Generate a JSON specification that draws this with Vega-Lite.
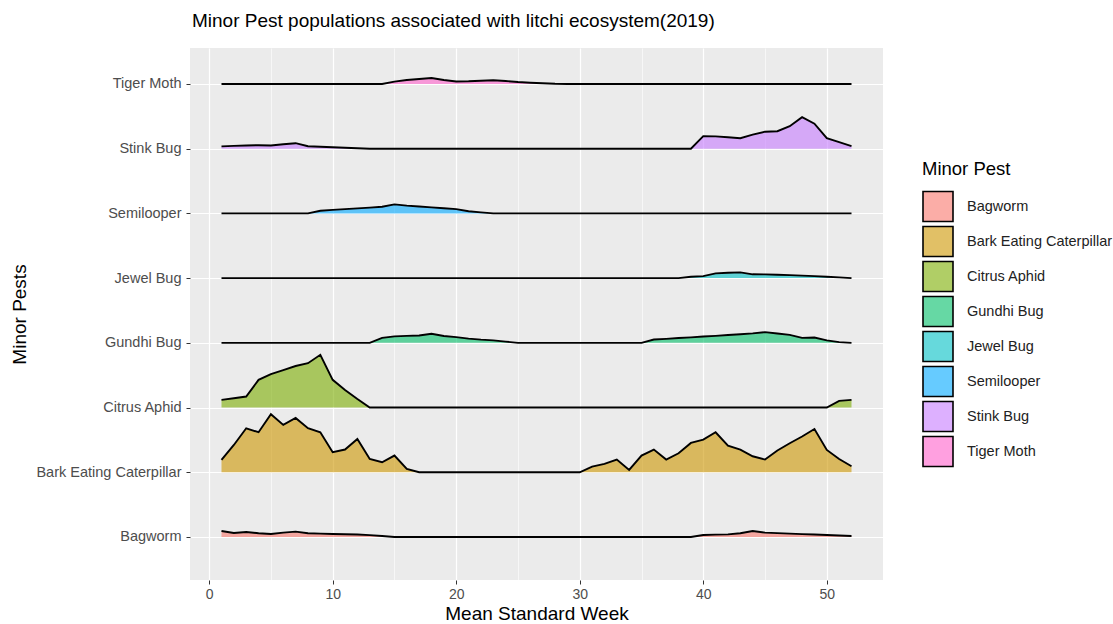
{
  "$schema": "https://vega.github.io/schema/vega-lite/v6.json",
  "width": 693,
  "height": 532,
  "autosize": {"type": "none"},
  "padding": {"left": 190, "top": 48, "right": 230, "bottom": 44},
  "background": "white",
  "title": {"text": "Minor Pest populations associated with litchi ecosystem(2019)", "anchor": "start", "frame": "group", "fontSize": 19, "fontWeight": "normal", "color": "black", "offset": 17, "dx": 2},
  "config": {
    "font": "Liberation Sans",
    "view": {"fill": "#EBEBEB", "stroke": null}
  },
  "data": {"values": [
    {"pest":"Bagworm","week":1,"value":6},{"pest":"Bagworm","week":2,"value":4},{"pest":"Bagworm","week":3,"value":5},{"pest":"Bagworm","week":4,"value":3.7},{"pest":"Bagworm","week":5,"value":3},{"pest":"Bagworm","week":6,"value":4.3},{"pest":"Bagworm","week":7,"value":5.3},{"pest":"Bagworm","week":8,"value":3.7},{"pest":"Bagworm","week":9,"value":3.3},{"pest":"Bagworm","week":10,"value":3},{"pest":"Bagworm","week":11,"value":2.7},{"pest":"Bagworm","week":12,"value":2.4},{"pest":"Bagworm","week":13,"value":1.8},{"pest":"Bagworm","week":14,"value":1},{"pest":"Bagworm","week":15,"value":0},{"pest":"Bagworm","week":16,"value":0},{"pest":"Bagworm","week":17,"value":0},{"pest":"Bagworm","week":18,"value":0},{"pest":"Bagworm","week":19,"value":0},{"pest":"Bagworm","week":20,"value":0},{"pest":"Bagworm","week":21,"value":0},{"pest":"Bagworm","week":22,"value":0},{"pest":"Bagworm","week":23,"value":0},{"pest":"Bagworm","week":24,"value":0},{"pest":"Bagworm","week":25,"value":0},{"pest":"Bagworm","week":26,"value":0},{"pest":"Bagworm","week":27,"value":0},{"pest":"Bagworm","week":28,"value":0},{"pest":"Bagworm","week":29,"value":0},{"pest":"Bagworm","week":30,"value":0},{"pest":"Bagworm","week":31,"value":0},{"pest":"Bagworm","week":32,"value":0},{"pest":"Bagworm","week":33,"value":0},{"pest":"Bagworm","week":34,"value":0},{"pest":"Bagworm","week":35,"value":0},{"pest":"Bagworm","week":36,"value":0},{"pest":"Bagworm","week":37,"value":0},{"pest":"Bagworm","week":38,"value":0},{"pest":"Bagworm","week":39,"value":0},{"pest":"Bagworm","week":40,"value":2},{"pest":"Bagworm","week":41,"value":2.3},{"pest":"Bagworm","week":42,"value":2.6},{"pest":"Bagworm","week":43,"value":3.7},{"pest":"Bagworm","week":44,"value":6},{"pest":"Bagworm","week":45,"value":4.3},{"pest":"Bagworm","week":46,"value":3.8},{"pest":"Bagworm","week":47,"value":3.3},{"pest":"Bagworm","week":48,"value":2.8},{"pest":"Bagworm","week":49,"value":2.4},{"pest":"Bagworm","week":50,"value":2},{"pest":"Bagworm","week":51,"value":1.5},{"pest":"Bagworm","week":52,"value":1},
    {"pest":"Bark Eating Caterpillar","week":1,"value":12.3},{"pest":"Bark Eating Caterpillar","week":2,"value":27.3},{"pest":"Bark Eating Caterpillar","week":3,"value":44},{"pest":"Bark Eating Caterpillar","week":4,"value":40},{"pest":"Bark Eating Caterpillar","week":5,"value":58},{"pest":"Bark Eating Caterpillar","week":6,"value":47.3},{"pest":"Bark Eating Caterpillar","week":7,"value":54.3},{"pest":"Bark Eating Caterpillar","week":8,"value":44},{"pest":"Bark Eating Caterpillar","week":9,"value":40},{"pest":"Bark Eating Caterpillar","week":10,"value":20},{"pest":"Bark Eating Caterpillar","week":11,"value":22.7},{"pest":"Bark Eating Caterpillar","week":12,"value":33.3},{"pest":"Bark Eating Caterpillar","week":13,"value":13.3},{"pest":"Bark Eating Caterpillar","week":14,"value":10},{"pest":"Bark Eating Caterpillar","week":15,"value":16.7},{"pest":"Bark Eating Caterpillar","week":16,"value":3.3},{"pest":"Bark Eating Caterpillar","week":17,"value":0},{"pest":"Bark Eating Caterpillar","week":18,"value":0},{"pest":"Bark Eating Caterpillar","week":19,"value":0},{"pest":"Bark Eating Caterpillar","week":20,"value":0},{"pest":"Bark Eating Caterpillar","week":21,"value":0},{"pest":"Bark Eating Caterpillar","week":22,"value":0},{"pest":"Bark Eating Caterpillar","week":23,"value":0},{"pest":"Bark Eating Caterpillar","week":24,"value":0},{"pest":"Bark Eating Caterpillar","week":25,"value":0},{"pest":"Bark Eating Caterpillar","week":26,"value":0},{"pest":"Bark Eating Caterpillar","week":27,"value":0},{"pest":"Bark Eating Caterpillar","week":28,"value":0},{"pest":"Bark Eating Caterpillar","week":29,"value":0},{"pest":"Bark Eating Caterpillar","week":30,"value":0},{"pest":"Bark Eating Caterpillar","week":31,"value":5.7},{"pest":"Bark Eating Caterpillar","week":32,"value":8.3},{"pest":"Bark Eating Caterpillar","week":33,"value":12.7},{"pest":"Bark Eating Caterpillar","week":34,"value":2.3},{"pest":"Bark Eating Caterpillar","week":35,"value":16.7},{"pest":"Bark Eating Caterpillar","week":36,"value":22.7},{"pest":"Bark Eating Caterpillar","week":37,"value":12.7},{"pest":"Bark Eating Caterpillar","week":38,"value":19},{"pest":"Bark Eating Caterpillar","week":39,"value":29.3},{"pest":"Bark Eating Caterpillar","week":40,"value":32.7},{"pest":"Bark Eating Caterpillar","week":41,"value":40},{"pest":"Bark Eating Caterpillar","week":42,"value":26.7},{"pest":"Bark Eating Caterpillar","week":43,"value":22.7},{"pest":"Bark Eating Caterpillar","week":44,"value":16},{"pest":"Bark Eating Caterpillar","week":45,"value":12.7},{"pest":"Bark Eating Caterpillar","week":46,"value":21.7},{"pest":"Bark Eating Caterpillar","week":47,"value":29},{"pest":"Bark Eating Caterpillar","week":48,"value":35.7},{"pest":"Bark Eating Caterpillar","week":49,"value":43.3},{"pest":"Bark Eating Caterpillar","week":50,"value":22.3},{"pest":"Bark Eating Caterpillar","week":51,"value":13.3},{"pest":"Bark Eating Caterpillar","week":52,"value":6},
    {"pest":"Citrus Aphid","week":1,"value":7.7},{"pest":"Citrus Aphid","week":2,"value":9.3},{"pest":"Citrus Aphid","week":3,"value":11},{"pest":"Citrus Aphid","week":4,"value":27.7},{"pest":"Citrus Aphid","week":5,"value":33.5},{"pest":"Citrus Aphid","week":6,"value":37.5},{"pest":"Citrus Aphid","week":7,"value":41.5},{"pest":"Citrus Aphid","week":8,"value":44.3},{"pest":"Citrus Aphid","week":9,"value":52.7},{"pest":"Citrus Aphid","week":10,"value":27.7},{"pest":"Citrus Aphid","week":11,"value":17.5},{"pest":"Citrus Aphid","week":12,"value":8.5},{"pest":"Citrus Aphid","week":13,"value":0},{"pest":"Citrus Aphid","week":14,"value":0},{"pest":"Citrus Aphid","week":15,"value":0},{"pest":"Citrus Aphid","week":16,"value":0},{"pest":"Citrus Aphid","week":17,"value":0},{"pest":"Citrus Aphid","week":18,"value":0},{"pest":"Citrus Aphid","week":19,"value":0},{"pest":"Citrus Aphid","week":20,"value":0},{"pest":"Citrus Aphid","week":21,"value":0},{"pest":"Citrus Aphid","week":22,"value":0},{"pest":"Citrus Aphid","week":23,"value":0},{"pest":"Citrus Aphid","week":24,"value":0},{"pest":"Citrus Aphid","week":25,"value":0},{"pest":"Citrus Aphid","week":26,"value":0},{"pest":"Citrus Aphid","week":27,"value":0},{"pest":"Citrus Aphid","week":28,"value":0},{"pest":"Citrus Aphid","week":29,"value":0},{"pest":"Citrus Aphid","week":30,"value":0},{"pest":"Citrus Aphid","week":31,"value":0},{"pest":"Citrus Aphid","week":32,"value":0},{"pest":"Citrus Aphid","week":33,"value":0},{"pest":"Citrus Aphid","week":34,"value":0},{"pest":"Citrus Aphid","week":35,"value":0},{"pest":"Citrus Aphid","week":36,"value":0},{"pest":"Citrus Aphid","week":37,"value":0},{"pest":"Citrus Aphid","week":38,"value":0},{"pest":"Citrus Aphid","week":39,"value":0},{"pest":"Citrus Aphid","week":40,"value":0},{"pest":"Citrus Aphid","week":41,"value":0},{"pest":"Citrus Aphid","week":42,"value":0},{"pest":"Citrus Aphid","week":43,"value":0},{"pest":"Citrus Aphid","week":44,"value":0},{"pest":"Citrus Aphid","week":45,"value":0},{"pest":"Citrus Aphid","week":46,"value":0},{"pest":"Citrus Aphid","week":47,"value":0},{"pest":"Citrus Aphid","week":48,"value":0},{"pest":"Citrus Aphid","week":49,"value":0},{"pest":"Citrus Aphid","week":50,"value":0},{"pest":"Citrus Aphid","week":51,"value":6.7},{"pest":"Citrus Aphid","week":52,"value":7.7},
    {"pest":"Gundhi Bug","week":1,"value":0},{"pest":"Gundhi Bug","week":2,"value":0},{"pest":"Gundhi Bug","week":3,"value":0},{"pest":"Gundhi Bug","week":4,"value":0},{"pest":"Gundhi Bug","week":5,"value":0},{"pest":"Gundhi Bug","week":6,"value":0},{"pest":"Gundhi Bug","week":7,"value":0},{"pest":"Gundhi Bug","week":8,"value":0},{"pest":"Gundhi Bug","week":9,"value":0},{"pest":"Gundhi Bug","week":10,"value":0},{"pest":"Gundhi Bug","week":11,"value":0},{"pest":"Gundhi Bug","week":12,"value":0},{"pest":"Gundhi Bug","week":13,"value":0},{"pest":"Gundhi Bug","week":14,"value":5},{"pest":"Gundhi Bug","week":15,"value":6.5},{"pest":"Gundhi Bug","week":16,"value":7},{"pest":"Gundhi Bug","week":17,"value":7.3},{"pest":"Gundhi Bug","week":18,"value":9},{"pest":"Gundhi Bug","week":19,"value":6.8},{"pest":"Gundhi Bug","week":20,"value":5.7},{"pest":"Gundhi Bug","week":21,"value":4.2},{"pest":"Gundhi Bug","week":22,"value":3.2},{"pest":"Gundhi Bug","week":23,"value":2.5},{"pest":"Gundhi Bug","week":24,"value":1.2},{"pest":"Gundhi Bug","week":25,"value":0},{"pest":"Gundhi Bug","week":26,"value":0},{"pest":"Gundhi Bug","week":27,"value":0},{"pest":"Gundhi Bug","week":28,"value":0},{"pest":"Gundhi Bug","week":29,"value":0},{"pest":"Gundhi Bug","week":30,"value":0},{"pest":"Gundhi Bug","week":31,"value":0},{"pest":"Gundhi Bug","week":32,"value":0},{"pest":"Gundhi Bug","week":33,"value":0},{"pest":"Gundhi Bug","week":34,"value":0},{"pest":"Gundhi Bug","week":35,"value":0},{"pest":"Gundhi Bug","week":36,"value":3.3},{"pest":"Gundhi Bug","week":37,"value":4},{"pest":"Gundhi Bug","week":38,"value":4.8},{"pest":"Gundhi Bug","week":39,"value":5.5},{"pest":"Gundhi Bug","week":40,"value":6.3},{"pest":"Gundhi Bug","week":41,"value":7},{"pest":"Gundhi Bug","week":42,"value":7.8},{"pest":"Gundhi Bug","week":43,"value":8.6},{"pest":"Gundhi Bug","week":44,"value":9.5},{"pest":"Gundhi Bug","week":45,"value":10.7},{"pest":"Gundhi Bug","week":46,"value":9.3},{"pest":"Gundhi Bug","week":47,"value":8},{"pest":"Gundhi Bug","week":48,"value":5},{"pest":"Gundhi Bug","week":49,"value":5.3},{"pest":"Gundhi Bug","week":50,"value":2.5},{"pest":"Gundhi Bug","week":51,"value":0.7},{"pest":"Gundhi Bug","week":52,"value":0},
    {"pest":"Jewel Bug","week":1,"value":0},{"pest":"Jewel Bug","week":2,"value":0},{"pest":"Jewel Bug","week":3,"value":0},{"pest":"Jewel Bug","week":4,"value":0},{"pest":"Jewel Bug","week":5,"value":0},{"pest":"Jewel Bug","week":6,"value":0},{"pest":"Jewel Bug","week":7,"value":0},{"pest":"Jewel Bug","week":8,"value":0},{"pest":"Jewel Bug","week":9,"value":0},{"pest":"Jewel Bug","week":10,"value":0},{"pest":"Jewel Bug","week":11,"value":0},{"pest":"Jewel Bug","week":12,"value":0},{"pest":"Jewel Bug","week":13,"value":0},{"pest":"Jewel Bug","week":14,"value":0},{"pest":"Jewel Bug","week":15,"value":0},{"pest":"Jewel Bug","week":16,"value":0},{"pest":"Jewel Bug","week":17,"value":0},{"pest":"Jewel Bug","week":18,"value":0},{"pest":"Jewel Bug","week":19,"value":0},{"pest":"Jewel Bug","week":20,"value":0},{"pest":"Jewel Bug","week":21,"value":0},{"pest":"Jewel Bug","week":22,"value":0},{"pest":"Jewel Bug","week":23,"value":0},{"pest":"Jewel Bug","week":24,"value":0},{"pest":"Jewel Bug","week":25,"value":0},{"pest":"Jewel Bug","week":26,"value":0},{"pest":"Jewel Bug","week":27,"value":0},{"pest":"Jewel Bug","week":28,"value":0},{"pest":"Jewel Bug","week":29,"value":0},{"pest":"Jewel Bug","week":30,"value":0},{"pest":"Jewel Bug","week":31,"value":0},{"pest":"Jewel Bug","week":32,"value":0},{"pest":"Jewel Bug","week":33,"value":0},{"pest":"Jewel Bug","week":34,"value":0},{"pest":"Jewel Bug","week":35,"value":0},{"pest":"Jewel Bug","week":36,"value":0},{"pest":"Jewel Bug","week":37,"value":0},{"pest":"Jewel Bug","week":38,"value":0},{"pest":"Jewel Bug","week":39,"value":1.3},{"pest":"Jewel Bug","week":40,"value":2},{"pest":"Jewel Bug","week":41,"value":4.7},{"pest":"Jewel Bug","week":42,"value":5.3},{"pest":"Jewel Bug","week":43,"value":5.7},{"pest":"Jewel Bug","week":44,"value":3.8},{"pest":"Jewel Bug","week":45,"value":3.7},{"pest":"Jewel Bug","week":46,"value":3.3},{"pest":"Jewel Bug","week":47,"value":3},{"pest":"Jewel Bug","week":48,"value":2.5},{"pest":"Jewel Bug","week":49,"value":2},{"pest":"Jewel Bug","week":50,"value":1.3},{"pest":"Jewel Bug","week":51,"value":0.7},{"pest":"Jewel Bug","week":52,"value":0},
    {"pest":"Semilooper","week":1,"value":0},{"pest":"Semilooper","week":2,"value":0},{"pest":"Semilooper","week":3,"value":0},{"pest":"Semilooper","week":4,"value":0},{"pest":"Semilooper","week":5,"value":0},{"pest":"Semilooper","week":6,"value":0},{"pest":"Semilooper","week":7,"value":0},{"pest":"Semilooper","week":8,"value":0},{"pest":"Semilooper","week":9,"value":2.7},{"pest":"Semilooper","week":10,"value":3.5},{"pest":"Semilooper","week":11,"value":4.3},{"pest":"Semilooper","week":12,"value":5},{"pest":"Semilooper","week":13,"value":5.8},{"pest":"Semilooper","week":14,"value":6.7},{"pest":"Semilooper","week":15,"value":9},{"pest":"Semilooper","week":16,"value":7.8},{"pest":"Semilooper","week":17,"value":6.9},{"pest":"Semilooper","week":18,"value":6},{"pest":"Semilooper","week":19,"value":5.1},{"pest":"Semilooper","week":20,"value":4.3},{"pest":"Semilooper","week":21,"value":2.2},{"pest":"Semilooper","week":22,"value":1},{"pest":"Semilooper","week":23,"value":0},{"pest":"Semilooper","week":24,"value":0},{"pest":"Semilooper","week":25,"value":0},{"pest":"Semilooper","week":26,"value":0},{"pest":"Semilooper","week":27,"value":0},{"pest":"Semilooper","week":28,"value":0},{"pest":"Semilooper","week":29,"value":0},{"pest":"Semilooper","week":30,"value":0},{"pest":"Semilooper","week":31,"value":0},{"pest":"Semilooper","week":32,"value":0},{"pest":"Semilooper","week":33,"value":0},{"pest":"Semilooper","week":34,"value":0},{"pest":"Semilooper","week":35,"value":0},{"pest":"Semilooper","week":36,"value":0},{"pest":"Semilooper","week":37,"value":0},{"pest":"Semilooper","week":38,"value":0},{"pest":"Semilooper","week":39,"value":0},{"pest":"Semilooper","week":40,"value":0},{"pest":"Semilooper","week":41,"value":0},{"pest":"Semilooper","week":42,"value":0},{"pest":"Semilooper","week":43,"value":0},{"pest":"Semilooper","week":44,"value":0},{"pest":"Semilooper","week":45,"value":0},{"pest":"Semilooper","week":46,"value":0},{"pest":"Semilooper","week":47,"value":0},{"pest":"Semilooper","week":48,"value":0},{"pest":"Semilooper","week":49,"value":0},{"pest":"Semilooper","week":50,"value":0},{"pest":"Semilooper","week":51,"value":0},{"pest":"Semilooper","week":52,"value":0},
    {"pest":"Stink Bug","week":1,"value":2.3},{"pest":"Stink Bug","week":2,"value":2.8},{"pest":"Stink Bug","week":3,"value":3.2},{"pest":"Stink Bug","week":4,"value":3.5},{"pest":"Stink Bug","week":5,"value":3.2},{"pest":"Stink Bug","week":6,"value":4.5},{"pest":"Stink Bug","week":7,"value":5.5},{"pest":"Stink Bug","week":8,"value":2.5},{"pest":"Stink Bug","week":9,"value":2},{"pest":"Stink Bug","week":10,"value":1.5},{"pest":"Stink Bug","week":11,"value":1},{"pest":"Stink Bug","week":12,"value":0.5},{"pest":"Stink Bug","week":13,"value":0},{"pest":"Stink Bug","week":14,"value":0},{"pest":"Stink Bug","week":15,"value":0},{"pest":"Stink Bug","week":16,"value":0},{"pest":"Stink Bug","week":17,"value":0},{"pest":"Stink Bug","week":18,"value":0},{"pest":"Stink Bug","week":19,"value":0},{"pest":"Stink Bug","week":20,"value":0},{"pest":"Stink Bug","week":21,"value":0},{"pest":"Stink Bug","week":22,"value":0},{"pest":"Stink Bug","week":23,"value":0},{"pest":"Stink Bug","week":24,"value":0},{"pest":"Stink Bug","week":25,"value":0},{"pest":"Stink Bug","week":26,"value":0},{"pest":"Stink Bug","week":27,"value":0},{"pest":"Stink Bug","week":28,"value":0},{"pest":"Stink Bug","week":29,"value":0},{"pest":"Stink Bug","week":30,"value":0},{"pest":"Stink Bug","week":31,"value":0},{"pest":"Stink Bug","week":32,"value":0},{"pest":"Stink Bug","week":33,"value":0},{"pest":"Stink Bug","week":34,"value":0},{"pest":"Stink Bug","week":35,"value":0},{"pest":"Stink Bug","week":36,"value":0},{"pest":"Stink Bug","week":37,"value":0},{"pest":"Stink Bug","week":38,"value":0},{"pest":"Stink Bug","week":39,"value":0},{"pest":"Stink Bug","week":40,"value":12.5},{"pest":"Stink Bug","week":41,"value":12.3},{"pest":"Stink Bug","week":42,"value":11.5},{"pest":"Stink Bug","week":43,"value":10.5},{"pest":"Stink Bug","week":44,"value":14},{"pest":"Stink Bug","week":45,"value":17},{"pest":"Stink Bug","week":46,"value":17.5},{"pest":"Stink Bug","week":47,"value":22.5},{"pest":"Stink Bug","week":48,"value":31.5},{"pest":"Stink Bug","week":49,"value":25},{"pest":"Stink Bug","week":50,"value":10.5},{"pest":"Stink Bug","week":51,"value":6.5},{"pest":"Stink Bug","week":52,"value":2.5},
    {"pest":"Tiger Moth","week":1,"value":0},{"pest":"Tiger Moth","week":2,"value":0},{"pest":"Tiger Moth","week":3,"value":0},{"pest":"Tiger Moth","week":4,"value":0},{"pest":"Tiger Moth","week":5,"value":0},{"pest":"Tiger Moth","week":6,"value":0},{"pest":"Tiger Moth","week":7,"value":0},{"pest":"Tiger Moth","week":8,"value":0},{"pest":"Tiger Moth","week":9,"value":0},{"pest":"Tiger Moth","week":10,"value":0},{"pest":"Tiger Moth","week":11,"value":0},{"pest":"Tiger Moth","week":12,"value":0},{"pest":"Tiger Moth","week":13,"value":0},{"pest":"Tiger Moth","week":14,"value":0},{"pest":"Tiger Moth","week":15,"value":2.3},{"pest":"Tiger Moth","week":16,"value":4},{"pest":"Tiger Moth","week":17,"value":5},{"pest":"Tiger Moth","week":18,"value":6},{"pest":"Tiger Moth","week":19,"value":4},{"pest":"Tiger Moth","week":20,"value":2.5},{"pest":"Tiger Moth","week":21,"value":2.7},{"pest":"Tiger Moth","week":22,"value":3.2},{"pest":"Tiger Moth","week":23,"value":3.7},{"pest":"Tiger Moth","week":24,"value":3},{"pest":"Tiger Moth","week":25,"value":2},{"pest":"Tiger Moth","week":26,"value":1.3},{"pest":"Tiger Moth","week":27,"value":0.8},{"pest":"Tiger Moth","week":28,"value":0.2},{"pest":"Tiger Moth","week":29,"value":0},{"pest":"Tiger Moth","week":30,"value":0},{"pest":"Tiger Moth","week":31,"value":0},{"pest":"Tiger Moth","week":32,"value":0},{"pest":"Tiger Moth","week":33,"value":0},{"pest":"Tiger Moth","week":34,"value":0},{"pest":"Tiger Moth","week":35,"value":0},{"pest":"Tiger Moth","week":36,"value":0},{"pest":"Tiger Moth","week":37,"value":0},{"pest":"Tiger Moth","week":38,"value":0},{"pest":"Tiger Moth","week":39,"value":0},{"pest":"Tiger Moth","week":40,"value":0},{"pest":"Tiger Moth","week":41,"value":0},{"pest":"Tiger Moth","week":42,"value":0},{"pest":"Tiger Moth","week":43,"value":0},{"pest":"Tiger Moth","week":44,"value":0},{"pest":"Tiger Moth","week":45,"value":0},{"pest":"Tiger Moth","week":46,"value":0},{"pest":"Tiger Moth","week":47,"value":0},{"pest":"Tiger Moth","week":48,"value":0},{"pest":"Tiger Moth","week":49,"value":0},{"pest":"Tiger Moth","week":50,"value":0},{"pest":"Tiger Moth","week":51,"value":0},{"pest":"Tiger Moth","week":52,"value":0}
  ]},
  "transform": [
    {"calculate": "indexof(['Bagworm','Bark Eating Caterpillar','Citrus Aphid','Gundhi Bug','Jewel Bug','Semilooper','Stink Bug','Tiger Moth'], datum.pest)", "as": "base"},
    {"calculate": "datum.base + datum.value / 64.7", "as": "ridge"}
  ],
  "layer": [
    {
      "mark": {"type": "area", "fillOpacity": 0.6},
      "encoding": {
        "x": {"field": "week", "type": "quantitative", "scale": {"domain": [-1.55, 54.55], "nice": false, "zero": false},
          "axis": {"orient": "top", "values": [5, 15, 25, 35, 45], "grid": true, "gridColor": "white", "gridWidth": 0.6, "labels": false, "ticks": false, "domain": false, "title": null}},
        "y": {"field": "ridge", "type": "quantitative", "scale": {"domain": [-0.665, 7.556], "nice": false, "zero": false},
          "axis": {"values": [0, 1, 2, 3, 4, 5, 6, 7],
            "labelExpr": "['Bagworm','Bark Eating Caterpillar','Citrus Aphid','Gundhi Bug','Jewel Bug','Semilooper','Stink Bug','Tiger Moth'][datum.value]",
            "title": "Minor Pests", "grid": true, "gridColor": "white", "gridWidth": 1.2, "domain": false, "tickColor": "#333333", "tickSize": 4, "labelFontSize": 14.5, "labelColor": "#4D4D4D", "labelPadding": 5, "titleFontSize": 19, "titleFontWeight": "normal", "titleColor": "black", "titlePadding": 6}},
        "y2": {"field": "base"},
        "color": {"field": "pest", "type": "nominal",
          "scale": {"domain": ["Bagworm", "Bark Eating Caterpillar", "Citrus Aphid", "Gundhi Bug", "Jewel Bug", "Semilooper", "Stink Bug", "Tiger Moth"],
            "range": ["#F8766D", "#CD9600", "#7CAE00", "#00BE67", "#00BFC4", "#00A9FF", "#C77CFF", "#FF61CC"]},
          "legend": {"orient": "none", "legendX": 732, "legendY": 112, "padding": 0, "title": "Minor Pest", "titleFontSize": 18.5, "titleFontWeight": "normal", "titleColor": "black", "titlePadding": 12,
            "symbolType": "square", "symbolSize": 900, "symbolStrokeColor": "black", "symbolStrokeWidth": 1.6, "labelFontSize": 14.5, "labelColor": "#222222", "labelOffset": 13, "rowPadding": -4.6,
            "encode": {"symbols": {"update": {"fillOpacity": {"value": 0.6}, "stroke": {"value": "black"}, "strokeWidth": {"value": 1.6}}}}}}
      }
    },
    {
      "mark": {"type": "line", "color": "black", "strokeWidth": 1.9},
      "encoding": {
        "x": {"field": "week", "type": "quantitative", "scale": {"domain": [-1.55, 54.55], "nice": false, "zero": false},
          "axis": {"values": [0, 10, 20, 30, 40, 50], "title": "Mean Standard Week", "grid": true, "gridColor": "white", "gridWidth": 1.2, "domain": false, "tickColor": "#333333", "tickSize": 4, "labelFontSize": 14, "labelColor": "#4D4D4D", "labelPadding": 3, "titleFontSize": 19, "titleFontWeight": "normal", "titleColor": "black", "titlePadding": 3}},
        "y": {"field": "ridge", "type": "quantitative"},
        "detail": {"field": "pest", "type": "nominal"}
      }
    }
  ],
  "resolve": {"axis": {"x": "independent"}}
}
